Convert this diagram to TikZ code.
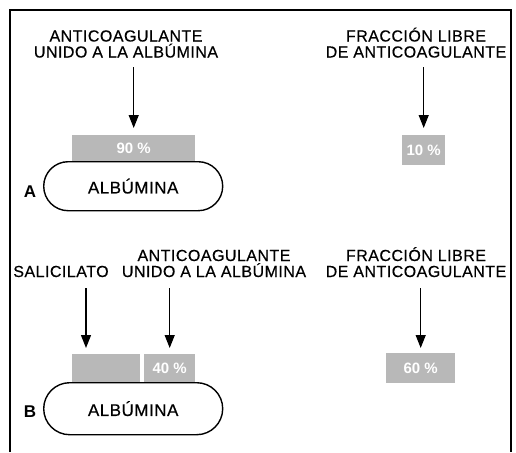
\documentclass[tikz,border=0pt]{standalone}
\usepackage{fontspec}
\setmainfont{Liberation Sans}
\newfontfamily\labfont[LetterSpace=3,FakeBold=0.4]{Liberation Sans}
\usetikzlibrary{arrows.meta}
\newcommand{\twolines}[2]{\begin{tabular}[b]{@{}c@{}}\smash{#1}\\\smash{#2}\end{tabular}}
\begin{document}
\begin{tikzpicture}[x=1pt,y=-1pt,
  lbl/.style={anchor=base, inner sep=0pt, font=\labfont\fontsize{16}{16}\selectfont},
  pct/.style={fill=black!28, draw=none, text=white, anchor=north west, inner sep=0pt,
              font=\bfseries\fontsize{15}{15}\selectfont},
  alb/.style={draw, line width=1.4pt, anchor=north west, inner sep=0pt,
              font=\labfont\fontsize{17}{17}\selectfont},
  tag/.style={anchor=base, inner sep=0pt, font=\bfseries\fontsize{17}{17}\selectfont},
  arr/.style={-{Triangle[length=13pt,width=10pt]}, line width=1.3pt},
  frame/.style={line width=1.5pt}]
\useasboundingbox (0,0) rectangle (516,452);
\draw[frame] (10,452) -- (10,10) -- (511,10) -- (511,452);

% ---- Panel A ----
\node[lbl] (tA1) at (126,57.5) {\twolines{ANTICOAGULANTE}{UNIDO A LA ALBÚMINA}};
\node[lbl] (tA2) at (416,57.5) {\twolines{FRACCIÓN LIBRE}{DE ANTICOAGULANTE}};
\node[pct, minimum width=123pt, minimum height=26pt] (bA1) at (72,135) {90 \%};
\node[pct, minimum width=43pt, minimum height=30pt] (bA2) at (402,135) {10 \%};
\node[alb, minimum width=179pt, minimum height=49pt, rounded corners=24.5pt] (sA) at (43,161) {ALBÚMINA};
\node[tag] (lA) at (30,197) {A};
\draw[arr] ([yshift=-9.5pt]tA1.base -| bA1.north) -- ([yshift=7pt]bA1.north);
\draw[arr] ([yshift=-9.5pt]tA2.base -| bA2.north) -- ([yshift=7pt]bA2.north);

% ---- Panel B ----
\node[lbl] (tB1) at (61,277) {SALICILATO};
\node[lbl] (tB2) at (214,277) {\twolines{ANTICOAGULANTE}{UNIDO A LA ALBÚMINA}};
\node[lbl] (tB3) at (416,277) {\twolines{FRACCIÓN LIBRE}{DE ANTICOAGULANTE}};
\node[pct, minimum width=68pt, minimum height=28pt] (bB1) at (72,354) {};
\node[pct, minimum width=51pt, minimum height=28pt] (bB2) at (144,354) {40 \%};
\node[pct, minimum width=69pt, minimum height=30pt] (bB3) at (386,353) {60 \%};
\node[alb, minimum width=179pt, minimum height=52pt, rounded corners=26pt] (sB) at (43,382) {ALBÚMINA};
\node[tag] (lB) at (30,417) {B};
\coordinate (salTip) at (86,348);
\draw[arr] ([yshift=-11pt]tB1.base -| salTip) -- (salTip);
\draw[arr] ([yshift=-11pt]tB2.base -| bB2.north) -- ([yshift=6pt]bB2.north);
\draw[arr] ([yshift=-11pt]tB3.base -| bB3.north) -- ([yshift=5pt]bB3.north);
\end{tikzpicture}
\end{document}
